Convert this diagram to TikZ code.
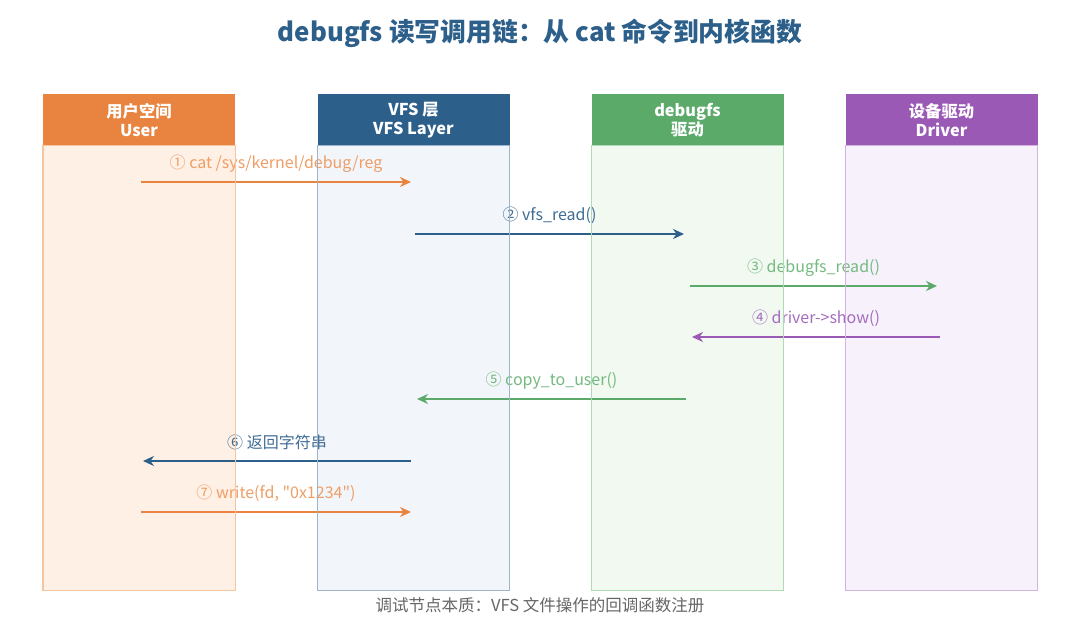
\documentclass[tikz,border=0pt]{standalone}
\usepackage{fontspec}
\setmainfont{Noto Sans CJK SC}[Ligatures=TeXOff]
\usetikzlibrary{arrows.meta}
\definecolor{cOr}{HTML}{E8843F}
\definecolor{cBl}{HTML}{2C5F8A}
\definecolor{cGr}{HTML}{5BAA6A}
\definecolor{cPu}{HTML}{9B59B6}
\definecolor{fOr}{HTML}{FEF0E5}
\definecolor{fBl}{HTML}{F2F6FA}
\definecolor{fGr}{HTML}{F1F9F1}
\definecolor{fPu}{HTML}{F6F1FA}
\definecolor{bOr}{HTML}{F3C6A2}
\definecolor{bBl}{HTML}{9DB5CC}
\definecolor{bGr}{HTML}{AEDAB5}
\definecolor{bPu}{HTML}{D2B3E2}
\definecolor{lOr}{HTML}{EE9E66}
\definecolor{lBl}{HTML}{3F6C94}
\definecolor{lGr}{HTML}{74BA80}
\definecolor{lPu}{HTML}{A56CC0}
\definecolor{capc}{HTML}{666666}
\begin{document}
\begin{tikzpicture}[x=1pt,y=-1pt,
  lanehead/.style={minimum width=192, minimum height=52, inner sep=0, text=white, align=center,
    font=\bfseries\fontsize{16.3}{19.5}\selectfont},
  lanebody/.style={minimum width=192, minimum height=444, inner sep=0},
  laneedge/.style={line width=1.4pt},
  msg/.style={line width=2.8pt, -{Stealth[length=11pt,width=10pt]}},
  lbl/.style={font=\fontsize{16}{18}\selectfont, inner sep=0, yshift=18.5pt}]
\useasboundingbox (0,0) rectangle (1080,644);
\fill[white] (0,0) rectangle (1080,644);

\node[font=\bfseries\fontsize{25.8}{30}\selectfont, text=cBl] (title) at (540,33) {debugfs 读写调用链：从 cat 命令到内核函数};

% lane bodies (fill)
\node[lanebody, fill=fOr] (b1) at (139,368) {};
\node[lanebody, fill=fBl] (b2) at (413.5,368) {};
\node[lanebody, fill=fGr] (b3) at (687.5,368) {};
\node[lanebody, fill=fPu] (b4) at (941.5,368) {};

% headers
\node[lanehead, fill=cOr] (h1) at (139,120) {用户空间\\User};
\node[lanehead, fill=cBl] (h2) at (413.5,120) {VFS 层\\VFS Layer};
\node[lanehead, fill=cGr] (h3) at (687.5,120) {debugfs\\驱动};
\node[lanehead, fill=cPu] (h4) at (941.5,120) {设备驱动\\Driver};

% message end points
\coordinate (m1s) at (141,182);  \coordinate (m1e) at (411,182);
\coordinate (m2s) at (415,234);  \coordinate (m2e) at (684,234);
\coordinate (m3s) at (690,286);  \coordinate (m3e) at (937,286);
\coordinate (m4s) at (940,337);  \coordinate (m4e) at (692,337);
\coordinate (m5s) at (686,399);  \coordinate (m5e) at (417,399);
\coordinate (m6s) at (411,461);  \coordinate (m6e) at (143,461);
\coordinate (m7s) at (141,512);  \coordinate (m7e) at (411,512);

\draw[msg, cOr] (m1s) -- (m1e) node[midway, lbl, text=lOr] {① cat /sys/kernel/debug/reg};
\draw[msg, cBl] (m2s) -- (m2e) node[midway, lbl, text=lBl] {② vfs\_read()};
\draw[msg, cGr] (m3s) -- (m3e) node[midway, lbl, text=lGr] {③ debugfs\_read()};
\draw[msg, cPu] (m4s) -- (m4e) node[midway, lbl, text=lPu] {④ driver->show()};
\draw[msg, cGr] (m5s) -- (m5e) node[midway, lbl, text=lGr] {⑤ copy\_to\_user()};
\draw[msg, cBl] (m6s) -- (m6e) node[midway, lbl, text=lBl] {⑥ 返回字符串};
\draw[msg, cOr] (m7s) -- (m7e) node[midway, lbl, text=lOr] {⑦ write(fd, "0x1234")};

% lane borders on top
\draw[laneedge, bOr] (b1.north west) rectangle (b1.south east);
\draw[laneedge, bBl] (b2.north west) rectangle (b2.south east);
\draw[laneedge, bGr] (b3.north west) rectangle (b3.south east);
\draw[laneedge, bPu] (b4.north west) rectangle (b4.south east);

\node[font=\fontsize{16.5}{19}\selectfont, text=capc] (cap) at (540,605) {调试节点本质：VFS 文件操作的回调函数注册};
\end{tikzpicture}
\end{document}
